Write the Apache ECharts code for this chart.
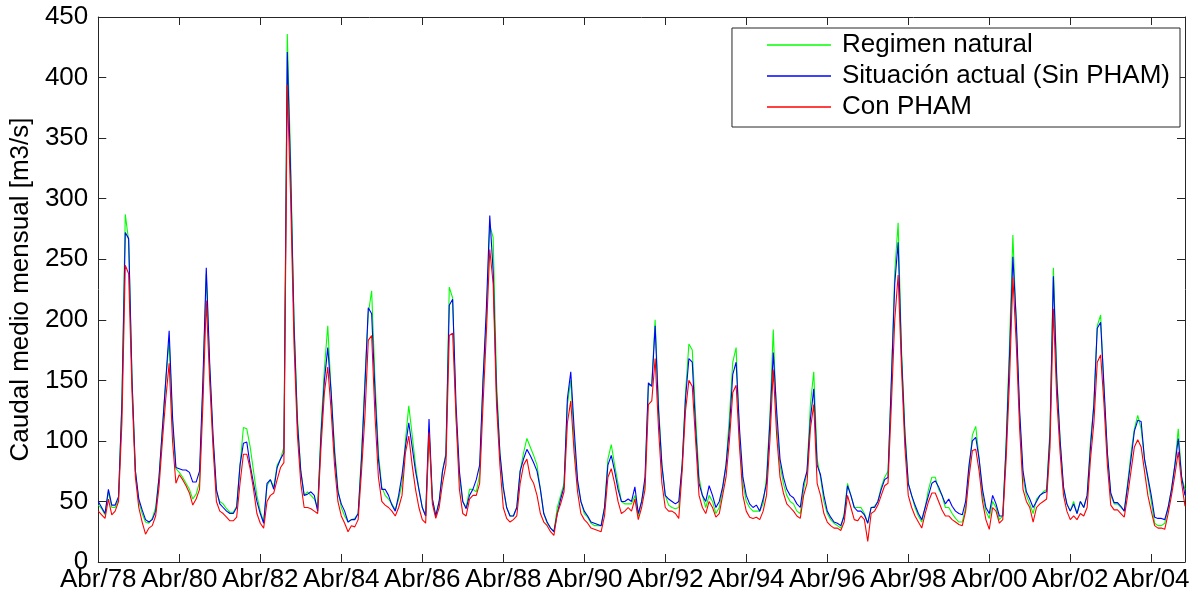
<!DOCTYPE html>
<html>
<head>
<meta charset="utf-8">
<script src="https://cdn.jsdelivr.net/npm/echarts@6/dist/echarts.min.js"></script>
<style>
  html, body { margin: 0; padding: 0; background: #fff; }
  #main { width: 1197px; height: 597px; }
</style>
</head>
<body>
<div id="main"></div>
<script>
// meses (serie mensual desde Abr/78)
var mesesNombre = ['Ene', 'Feb', 'Mar', 'Abr', 'May', 'Jun', 'Jul', 'Ago', 'Sep', 'Oct', 'Nov', 'Dic'];
var anioInicio = 1978;
var mesInicio = 3; // Abr

var regimenNatural = [
  47, 44, 39, 58, 45, 45, 52, 135, 287, 265, 150, 75, 50, 40, 33, 32, 36, 45, 70, 110,
  150, 183, 115, 77, 74, 70, 65, 60, 52, 56, 66, 145, 238, 160, 100, 58, 50, 48, 44, 41,
  41, 46, 80, 111, 110, 95, 75, 55, 42, 33, 63, 68, 62, 80, 85, 95, 436, 330, 200, 120,
  75, 55, 58, 55, 52, 45, 110, 160, 195, 140, 95, 60, 45, 38, 33, 35, 36, 40, 90, 150,
  205, 224, 150, 90, 62, 55, 52, 48, 43, 52, 65, 100, 129, 105, 80, 60, 45, 38, 110, 52,
  38, 50, 75, 90, 227, 218, 120, 70, 50, 45, 60, 60, 58, 72, 150, 200, 278, 268, 150, 90,
  60, 45, 38, 38, 45, 75, 90, 102, 95, 88, 80, 60, 40, 32, 28, 25, 45, 55, 65, 130,
  150, 100, 65, 50, 40, 37, 32, 30, 30, 30, 45, 85, 97, 80, 65, 50, 48, 48, 48, 55,
  38, 50, 65, 145, 147, 200, 130, 80, 55, 47, 45, 44, 45, 80, 140, 180, 175, 120, 70, 55,
  45, 55, 50, 40, 45, 60, 80, 120, 165, 177, 100, 65, 50, 45, 42, 42, 42, 48, 70, 120,
  192, 115, 80, 65, 55, 50, 48, 42, 40, 60, 75, 130, 157, 85, 70, 50, 40, 35, 32, 30,
  28, 40, 65, 55, 45, 45, 45, 40, 32, 45, 46, 50, 62, 70, 75, 150, 240, 280, 175, 110,
  65, 55, 45, 38, 33, 45, 60, 70, 70, 60, 55, 45, 45, 40, 36, 33, 33, 45, 75, 105,
  112, 85, 55, 42, 36, 50, 45, 35, 38, 100, 180, 270, 195, 120, 70, 55, 48, 40, 52, 55,
  58, 60, 110, 243, 155, 100, 60, 48, 42, 50, 40, 50, 45, 55, 100, 130, 195, 204, 140, 90,
  55, 48, 48, 45, 42, 65, 90, 110, 121, 110, 85, 68, 50, 32, 30, 30, 32, 45, 60, 80,
  110, 70, 60
];

var situacionActual = [
  50, 45, 40, 60, 47, 47, 54, 130, 272, 267, 150, 75, 52, 43, 35, 33, 35, 42, 70, 110,
  150, 191, 120, 78, 77, 76, 76, 74, 66, 66, 75, 150, 243, 165, 105, 60, 48, 45, 42, 40,
  40, 45, 80, 98, 99, 80, 65, 50, 40, 32, 65, 68, 60, 78, 85, 90, 421, 320, 195, 115,
  75, 55, 56, 58, 55, 42, 105, 150, 177, 140, 90, 58, 48, 42, 33, 35, 35, 40, 85, 145,
  210, 205, 140, 85, 60, 60, 55, 47, 42, 55, 72, 95, 115, 95, 75, 60, 45, 38, 118, 52,
  38, 50, 75, 88, 212, 217, 130, 75, 50, 44, 55, 60, 68, 80, 150, 210, 286, 240, 140, 90,
  62, 45, 38, 38, 45, 75, 85, 93, 88, 82, 75, 60, 40, 33, 28, 25, 40, 52, 62, 135,
  157, 110, 68, 50, 42, 38, 33, 32, 31, 30, 45, 80, 88, 75, 60, 50, 50, 52, 50, 62,
  40, 50, 70, 148, 145, 195, 125, 80, 55, 52, 50, 48, 50, 80, 135, 168, 165, 110, 65, 55,
  50, 63, 55, 45, 50, 62, 80, 110, 155, 165, 110, 70, 55, 48, 45, 47, 42, 52, 65, 115,
  173, 125, 85, 70, 60, 55, 53, 48, 45, 65, 75, 118, 143, 80, 72, 55, 42, 37, 33, 32,
  30, 38, 63, 55, 45, 42, 42, 39, 32, 45, 45, 50, 60, 68, 70, 150, 230, 264, 170, 105,
  65, 55, 47, 40, 35, 45, 55, 65, 67, 62, 55, 48, 52, 46, 42, 40, 39, 50, 80, 100,
  103, 85, 60, 45, 40, 55, 48, 38, 38, 95, 170, 252, 200, 125, 75, 58, 52, 45, 50, 55,
  57, 58, 105, 236, 150, 100, 62, 48, 42, 48, 40, 50, 45, 55, 95, 130, 193, 198, 145, 90,
  57, 49, 49, 46, 42, 63, 85, 108, 117, 116, 85, 70, 55, 37, 36, 36, 35, 45, 60, 80,
  102, 70, 55
];

var conPHAM = [
  42, 39, 36, 52, 39, 42, 50, 115, 245, 238, 140, 70, 45, 33, 23, 28, 30, 38, 62, 100,
  135, 164, 100, 65, 72, 68, 63, 57, 47, 52, 60, 130, 216, 150, 95, 50, 42, 40, 37, 34,
  34, 37, 65, 89, 89, 77, 60, 40, 32, 28, 50, 55, 57, 68, 78, 82, 394, 300, 180, 105,
  65, 45, 45, 44, 42, 40, 95, 140, 161, 125, 80, 50, 38, 32, 25, 30, 29, 35, 75, 120,
  183, 187, 120, 70, 50, 47, 45, 42, 38, 45, 55, 90, 104, 80, 60, 45, 35, 32, 107, 48,
  36, 45, 65, 80, 187, 189, 120, 60, 40, 38, 52, 55, 55, 65, 130, 190, 258, 230, 130, 80,
  45, 36, 33, 35, 38, 65, 80, 85, 70, 65, 55, 40, 33, 30, 25, 22, 40, 48, 58, 115,
  133, 90, 58, 40, 35, 32, 28, 27, 26, 25, 38, 70, 77, 65, 50, 40, 42, 45, 42, 52,
  35, 45, 60, 130, 133, 168, 110, 65, 45, 42, 42, 40, 36, 75, 125, 150, 145, 100, 55, 45,
  40, 50, 45, 37, 40, 55, 70, 100, 140, 146, 95, 55, 42, 37, 36, 37, 35, 42, 55, 100,
  159, 105, 70, 57, 48, 45, 42, 38, 36, 55, 65, 110, 130, 65, 55, 40, 33, 30, 28, 28,
  26, 33, 55, 45, 35, 34, 38, 35, 17, 40, 42, 47, 55, 63, 65, 130, 200, 237, 160, 95,
  55, 45, 38, 33, 28, 40, 50, 57, 57, 50, 43, 38, 38, 35, 33, 31, 30, 42, 70, 92,
  93, 75, 50, 35, 27, 45, 42, 32, 35, 85, 150, 235, 180, 110, 60, 50, 45, 33, 45, 48,
  50, 52, 95, 209, 135, 90, 55, 42, 35, 38, 35, 40, 38, 45, 85, 115, 165, 171, 130, 80,
  47, 43, 43, 40, 37, 55, 75, 95, 101, 95, 75, 55, 42, 30, 28, 28, 27, 40, 55, 72,
  91, 65, 46
];

var yTicks = { min: 0, max: 450, interval: 50 };

var categorias = [];
for (var i = 0; i < regimenNatural.length; i++) {
    var m = (mesInicio + i) % 12;
    var a = anioInicio + Math.floor((mesInicio + i) / 12);
    categorias.push(mesesNombre[m] + '/' + String(a % 100).padStart(2, '0'));
}

var fuente = 'Liberation Sans, Arial, Helvetica, sans-serif';
var tam = 26;
var chart = echarts.init(document.getElementById('main'));

// ejes con marcas hacia dentro, estilo caja
var ejeX = {
    type: 'category',
    data: categorias,
    boundaryGap: false,
    axisLine: { show: true, onZero: false, lineStyle: { color: '#262626', width: 1 } },
    axisTick: { show: true, inside: true, interval: 23, length: 8, lineStyle: { color: '#262626' } },
    axisLabel: { interval: 23, color: '#000', fontSize: tam, fontFamily: fuente, margin: 5 },
    splitLine: { show: false }
};
var ejeY = {
    type: 'value',
    min: yTicks.min,
    max: yTicks.max,
    interval: yTicks.interval,
    name: 'Caudal medio mensual [m3/s]',
    nameLocation: 'middle',
    nameGap: 58,
    nameTextStyle: { color: '#000', fontSize: tam, fontFamily: fuente },
    axisLine: { show: true, lineStyle: { color: '#262626', width: 1 } },
    axisTick: { show: true, inside: true, length: 8, lineStyle: { color: '#262626' } },
    axisLabel: { color: '#000', fontSize: tam, fontFamily: fuente, margin: 10 },
    splitLine: { show: false }
};

function serie(nombre, datos, color) {
    return {
        name: nombre,
        type: 'line',
        data: datos,
        symbol: 'none',
        lineStyle: { color: color, width: 1.1 },
        itemStyle: { color: color },
        animation: false
    };
}

chart.setOption({
    backgroundColor: '#fff',
    animation: false,
    grid: { left: 97, right: 12, top: 17, bottom: 35 },
    legend: {
        orient: 'vertical',
        right: 17,
        top: 28,
        padding: [4, 10, 7, 35],
        itemGap: 5,
        itemWidth: 64,
        itemHeight: 1.5,
        icon: 'rect',
        backgroundColor: '#fff',
        borderColor: '#262626',
        borderWidth: 1,
        textStyle: { color: '#000', fontSize: tam, fontFamily: fuente, padding: [0, 0, 0, 6] },
        data: ['Regimen natural', 'Situación actual (Sin PHAM)', 'Con PHAM']
    },
    xAxis: [
        ejeX,
        Object.assign({}, ejeX, { position: 'top', axisLabel: { show: false } })
    ],
    yAxis: [
        ejeY,
        Object.assign({}, ejeY, { position: 'right', name: '', axisLabel: { show: false } })
    ],
    series: [
        serie('Regimen natural', regimenNatural, '#00ff00'),
        serie('Situación actual (Sin PHAM)', situacionActual, '#0000ff'),
        serie('Con PHAM', conPHAM, '#ff0000')
    ]
});
</script>
</body>
</html>
